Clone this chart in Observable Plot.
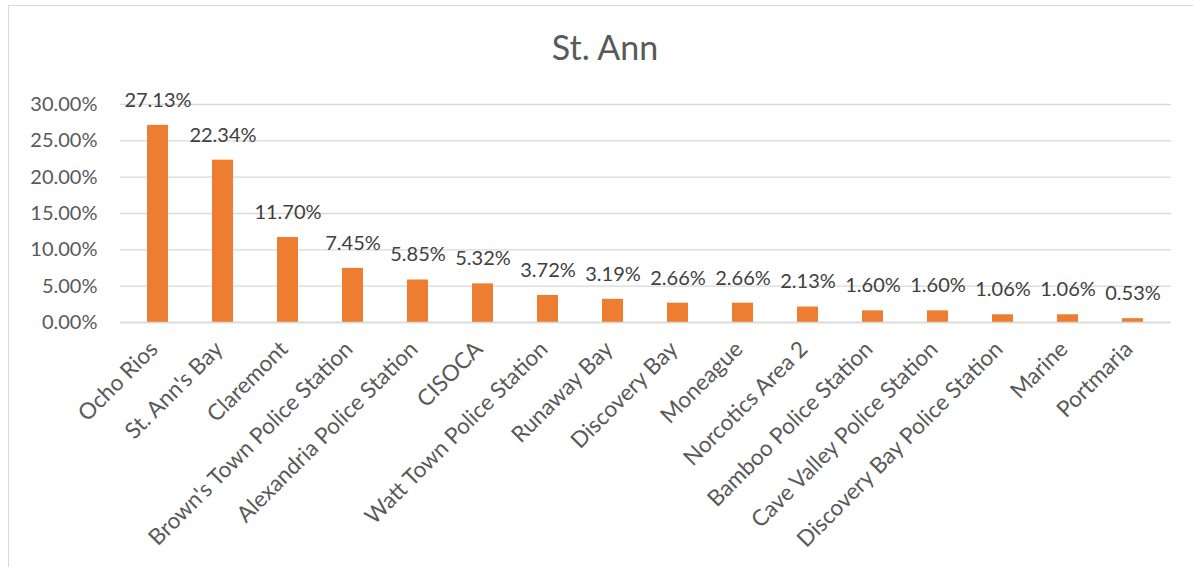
<!DOCTYPE html>
<html>
<head>
<meta charset="utf-8">
<script src="https://cdn.jsdelivr.net/npm/d3@7"></script>
<script src="https://cdn.jsdelivr.net/npm/@observablehq/plot@0.6"></script>
<style>
  html, body { margin: 0; padding: 0; background: #fff; }
  body { width: 1193px; height: 567px; position: relative; overflow: hidden; font-family: Lato, "Open Sans", sans-serif; }
  #frame { position: absolute; left: 8px; top: 5px; width: 1190px; height: 600px; border: 1.5px solid #d9d9d9; box-sizing: border-box; }
  #title { position: absolute; left: 0; width: 1210px; top: 26px; text-align: center; font-size: 34px; color: #595959; font-family: Lato, sans-serif; }
  #chart { position: absolute; left: 0; top: 0; }
</style>
</head>
<body>
<div id="frame"></div>
<div id="title">St. Ann</div>
<div id="chart"></div>
<script>
const categories = ["Ocho Rios", "St. Ann's Bay", "Claremont", "Brown's Town Police Station", "Alexandria Police Station", "CISOCA", "Watt Town Police Station", "Runaway Bay", "Discovery Bay", "Moneague", "Norcotics Area 2", "Bamboo Police Station", "Cave Valley Police Station", "Discovery Bay Police Station", "Marine", "Portmaria"];
const values = [0.2713, 0.2234, 0.1170, 0.0745, 0.0585, 0.0532, 0.0372, 0.0319, 0.0266, 0.0266, 0.0213, 0.0160, 0.0160, 0.0106, 0.0106, 0.0053];
const yTicks = [0, 0.05, 0.10, 0.15, 0.20, 0.25, 0.30];

const data = categories.map((c, i) => ({category: c, value: values[i]}));
const pct = d3.format(".2%");

const chart = Plot.plot({
  width: 1193,
  height: 567,
  marginLeft: 120,
  marginRight: 22,
  marginTop: 104,
  marginBottom: 245,
  style: {fontFamily: "Lato, sans-serif", background: "transparent", overflow: "visible"},
  x: {domain: categories, paddingInner: 0.67, paddingOuter: 0.335, label: null},
  y: {domain: [0, 0.30], label: null},
  marks: [
    Plot.gridY(yTicks, {stroke: "#d9d9d9", strokeOpacity: 1, strokeWidth: 1.3}),
    Plot.axisY(yTicks, {tickFormat: pct, tickSize: 0, tickPadding: 23, fontSize: 20, fill: "#595959", label: null}),
    Plot.axisX({tickSize: 0, tickRotate: -45, tickPadding: 23, fontSize: 22.5, fill: "#595959", dx: -4, label: null}),
    Plot.barY(data, {x: "category", y: "value", fill: "#ED7D31"}),
    Plot.ruleY([0], {stroke: "#d9d9d9", strokeWidth: 1.5}),
    Plot.text(data, {x: "category", y: "value", text: d => pct(d.value), dy: -25, fontSize: 20, fill: "#404040", lineAnchor: "middle"})
  ]
});
document.getElementById("chart").appendChild(chart);
</script>
</body>
</html>
